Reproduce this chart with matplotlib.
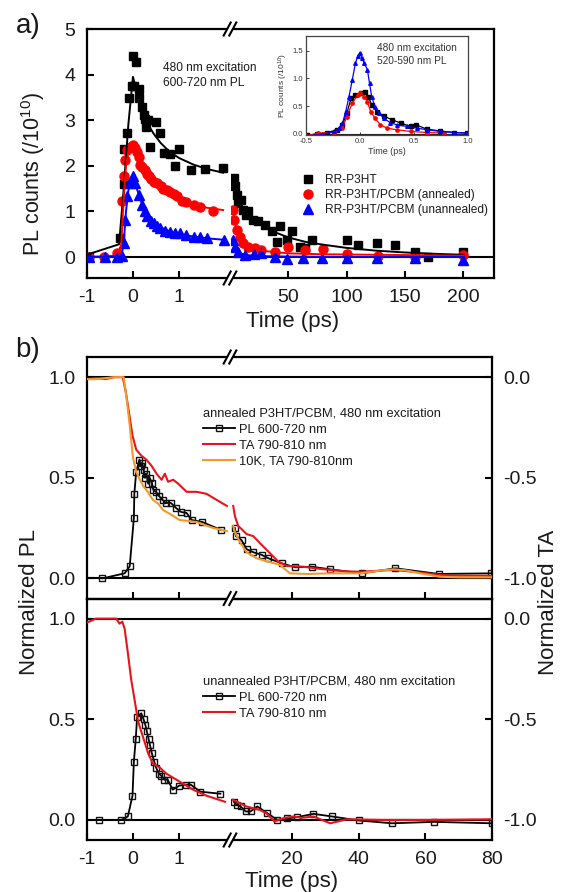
import matplotlib
matplotlib.use('Agg')
import matplotlib.pyplot as plt
from matplotlib.lines import Line2D
from matplotlib.patches import Rectangle

plt.rcParams['font.family'] = ['Liberation Sans', 'DejaVu Sans']
plt.rcParams['mathtext.fontset'] = 'custom'
plt.rcParams['mathtext.rm'] = 'Liberation Sans'
plt.rcParams['mathtext.it'] = 'Liberation Sans:italic'

# ---------------- data: panel a ----------------
series_names = ['RR-P3HT', 'RR-P3HT/PCBM (annealed)', 'RR-P3HT/PCBM (unannealed)']

p3ht_t_short = [-0.96, -0.29, -0.2, -0.19, -0.13, -0.09, -0.02, 0.01, 0.03, 0.07, 0.12, 0.14, 0.19, 0.23,
                0.27, 0.29, 0.32, 0.37, 0.5, 0.58, 0.68, 0.81, 0.9, 0.99, 1.25, 1.56, 1.94]
p3ht_v_short = [0.0, 0.42, 1.61, 2.37, 2.73, 3.48, 3.74, 4.41, 3.74, 4.28, 3.68, 3.48, 3.28, 3.12,
                3.02, 2.86, 3.01, 2.42, 2.97, 2.72, 2.29, 2.26, 2.0, 2.37, 1.91, 1.93, 1.96]
p3ht_t_long = [3.7, 4.3, 5.7, 7.1, 9.4, 11.4, 13.4, 15.7, 20, 24.3, 30, 35.7, 40, 42.9, 48.6, 52.9,
               60, 64.3, 70, 100, 110, 125.7, 141.4, 158.6, 170, 200]
p3ht_v_long = [1.73, 1.55, 1.37, 1.18, 1.26, 1.04, 0.93, 1.0, 0.82, 0.78, 0.71, 0.56, 0.34, 0.67, 0.38, 0.58,
               0.23, 0.2, 0.38, 0.37, 0.27, 0.31, 0.27, 0.10, 0.0, 0.12]
p3ht_fit_t_short = [-1, -0.3, -0.2, -0.1, 0.0, 0.05, 0.1, 0.2, 0.3, 0.45, 0.6, 0.8, 1.0, 1.3, 1.6, 1.95]
p3ht_fit_v_short = [0.05, 0.28, 1.5, 2.9, 3.95, 3.75, 3.55, 3.2, 2.95, 2.7, 2.5, 2.3, 2.17, 2.03, 1.93, 1.85]
p3ht_fit_t_long = [2.5, 3, 5, 8, 12, 16, 20, 25, 30, 40, 50, 65, 80, 100, 125, 150, 175, 200]
p3ht_fit_v_long = [1.75, 1.6, 1.35, 1.17, 1.02, 0.92, 0.84, 0.75, 0.67, 0.53, 0.43, 0.33, 0.27, 0.2, 0.14, 0.1, 0.07, 0.05]

ann_t_short = [-0.96, -0.63, -0.35, -0.24, -0.2, -0.17, -0.13, -0.06, 0.0, 0.04, 0.08, 0.12, 0.16, 0.2, 0.25,
               0.3, 0.34, 0.4, 0.46, 0.52, 0.6, 0.66, 0.73, 0.8, 0.88, 0.95, 1.06, 1.15, 1.31, 1.45, 1.73]
ann_v_short = [0.0, 0.0, 0.09, 1.22, 1.77, 2.13, 2.35, 2.42, 2.46, 2.4, 2.3, 2.2, 2.02, 1.98, 1.9,
               1.82, 1.77, 1.72, 1.65, 1.62, 1.55, 1.5, 1.47, 1.42, 1.38, 1.33, 1.22, 1.2, 1.15, 1.1, 1.02]
ann_t_long = [3, 3.7, 5.7, 8.6, 11.4, 15.7, 21.4, 27, 38.6, 50, 64, 80, 100, 127, 159, 200]
ann_v_long = [1.04, 0.82, 0.6, 0.45, 0.31, 0.23, 0.2, 0.16, 0.12, 0.22, 0.16, 0.18, 0.07, 0.03, 0.01, 0.05]
ann_fit_t_short = [-1, -0.3, -0.25, -0.2, -0.15, -0.1, -0.05, 0.0, 0.1, 0.2, 0.3, 0.45, 0.6, 0.8, 1.0, 1.3, 1.6, 1.95]
ann_fit_v_short = [0.0, 0.02, 0.3, 1.3, 2.0, 2.3, 2.42, 2.45, 2.28, 2.05, 1.87, 1.68, 1.54, 1.4, 1.28, 1.16, 1.08, 1.03]
ann_fit_t_long = [2.5, 4, 6, 10, 15, 20, 30, 50, 80, 120, 160, 200]
ann_fit_v_long = [1.1, 0.8, 0.58, 0.38, 0.25, 0.19, 0.13, 0.08, 0.06, 0.05, 0.04, 0.03]

una_t_short = [-0.96, -0.6, -0.35, -0.24, -0.2, -0.17, -0.13, -0.06, 0.0, 0.05, 0.12, 0.19, 0.25, 0.3, 0.38,
               0.45, 0.52, 0.59, 0.7, 0.81, 0.9, 1.02, 1.15, 1.31, 1.45, 1.6, 1.96]
una_v_short = [0.0, 0.0, 0.0, 0.02, 0.3, 0.82, 1.33, 1.62, 1.77, 1.62, 1.36, 1.15, 1.0, 0.89, 0.8,
               0.74, 0.68, 0.64, 0.58, 0.54, 0.53, 0.53, 0.48, 0.45, 0.43, 0.42, 0.38]
una_t_long = [3, 4.3, 7.1, 12.9, 21, 27, 39, 49, 63, 79, 100, 126, 159, 200]
una_v_long = [0.38, 0.23, 0.12, 0.05, 0.07, 0.09, 0.0, -0.04, -0.02, -0.02, -0.02, -0.02, -0.02, -0.07]
una_fit_t_short = [-1, -0.25, -0.2, -0.15, -0.1, -0.05, 0.0, 0.1, 0.2, 0.3, 0.45, 0.6, 0.8, 1.0, 1.3, 1.6, 1.95]
una_fit_v_short = [0.0, 0.02, 0.3, 1.0, 1.45, 1.68, 1.75, 1.45, 1.15, 0.93, 0.76, 0.65, 0.56, 0.5, 0.45, 0.41, 0.38]
una_fit_t_long = [2.5, 4, 6, 10, 15, 25, 50, 100, 200]
una_fit_v_long = [0.42, 0.25, 0.14, 0.07, 0.04, 0.02, 0.01, 0.0, 0.0]

# inset (520-590 nm PL)
ins_blue_t = [-0.49, -0.36, -0.24, -0.19, -0.16, -0.13, -0.1, -0.07, -0.04, -0.02, 0.0, 0.02, 0.04, 0.07,
              0.09, 0.11, 0.14, 0.18, 0.22, 0.28, 0.34, 0.44, 0.53, 0.62, 0.74, 0.87, 0.99]
ins_blue_v = [-0.04, -0.02, 0.04, 0.1, 0.19, 0.4, 0.67, 0.97, 1.28, 1.4, 1.47, 1.37, 1.28, 1.16,
              0.91, 0.67, 0.49, 0.37, 0.28, 0.2, 0.16, 0.13, 0.1, 0.07, 0.04, 0.02, 0.01]
ins_black_t = [-0.49, -0.4, -0.3, -0.21, -0.16, -0.12, -0.08, -0.04, 0.01, 0.05, 0.08, 0.11, 0.16, 0.22,
               0.3, 0.38, 0.47, 0.52, 0.62, 0.74, 0.87, 0.99]
ins_black_v = [-0.03, -0.01, 0.02, 0.07, 0.16, 0.37, 0.64, 0.7, 0.73, 0.76, 0.67, 0.52, 0.4, 0.32,
               0.25, 0.19, 0.13, 0.16, 0.08, 0.05, 0.02, 0.01]
ins_red_t = [-0.49, -0.39, -0.24, -0.16, -0.12, -0.07, -0.02, 0.0, 0.04, 0.07, 0.1, 0.14, 0.19, 0.25,
             0.34, 0.47, 0.62, 0.78]
ins_red_v = [-0.04, 0.01, 0.02, 0.1, 0.31, 0.55, 0.7, 0.73, 0.67, 0.58, 0.4, 0.28, 0.16, 0.1,
             0.07, 0.04, 0.02, 0.01]

# ---------------- data: panel b ----------------
legend_b_top = ['PL 600-720 nm', 'TA 790-810 nm', '10K, TA 790-810nm']
legend_b_bot = ['PL 600-720 nm', 'TA 790-810 nm']

# annealed PL (normalized)
aPL_t_short = [-0.66, -0.18, -0.07, 0.02, 0.03, 0.07, 0.14, 0.17, 0.2, 0.23, 0.26, 0.29, 0.33, 0.36, 0.41,
               0.44, 0.5, 0.56, 0.64, 0.71, 0.82, 0.93, 1.04, 1.16, 1.27, 1.5, 1.91]
aPL_v_short = [0.0, 0.025, 0.06, 0.3, 0.42, 0.53, 0.59, 0.56, 0.575, 0.54, 0.5, 0.52, 0.47, 0.5, 0.475,
               0.44, 0.43, 0.41, 0.39, 0.375, 0.375, 0.35, 0.33, 0.325, 0.29, 0.28, 0.24]
aPL_t_long = [3.0, 3.3, 5.0, 6.5, 8.5, 11.0, 13.0, 17.0, 21.0, 26.0, 31.5, 41.0, 51.0, 64.0, 79.5]
aPL_v_long = [0.25, 0.21, 0.19, 0.145, 0.13, 0.117, 0.1, 0.075, 0.055, 0.058, 0.045, 0.025, 0.05, 0.022, 0.025]
# annealed TA (right axis, normalized TA)
aTA_t_short = [-1.0, -0.8, -0.6, -0.4, -0.22, -0.15, -0.07, -0.01, 0.07, 0.18, 0.29, 0.4, 0.51, 0.62, 0.69,
               0.76, 0.87, 0.98, 1.16, 1.38, 1.59, 1.81, 2.03]
aTA_v_short = [-0.01, -0.005, -0.01, 0.0, 0.0, -0.08, -0.2, -0.29, -0.36, -0.39, -0.41, -0.44, -0.48, -0.51, -0.48,
               -0.52, -0.51, -0.53, -0.57, -0.57, -0.58, -0.61, -0.64]
aTA_t_long = [2.5, 3, 4, 5, 6.5, 8.5, 10.5, 12, 13.5, 16, 18.5, 21, 23.5, 27, 31.5, 36, 40.5, 45, 50.4, 55,
              60.4, 64, 68.4, 74, 80]
aTA_v_long = [-0.64, -0.69, -0.74, -0.755, -0.78, -0.79, -0.825, -0.85, -0.875, -0.917, -0.938, -0.94, -0.942,
              -0.95, -0.958, -0.965, -0.967, -0.963, -0.958, -0.965, -0.975, -0.982, -0.987, -0.987, -0.987]
a10K_t_short = [-1.0, -0.8, -0.6, -0.4, -0.2, -0.14, -0.07, 0.0, 0.07, 0.15, 0.22, 0.32, 0.43, 0.55, 0.65,
                0.8, 1.01, 1.2, 1.38, 1.55, 1.74, 2.03]
a10K_v_short = [-0.01, -0.01, -0.005, 0.0, 0.0, -0.1, -0.24, -0.4, -0.47, -0.51, -0.54, -0.57, -0.61, -0.63, -0.66,
                -0.68, -0.71, -0.715, -0.72, -0.735, -0.75, -0.765]
a10K_t_long = [2.5, 3, 4.5, 6.5, 9.5, 13, 16.5, 18, 19.5, 24.5, 31.5, 40.5, 46, 50.4, 54, 58.4, 64.4, 70, 80]
a10K_v_long = [-0.74, -0.77, -0.82, -0.87, -0.9, -0.917, -0.933, -0.955, -0.975, -0.978, -0.975, -0.975, -0.962,
               -0.955, -0.96, -0.975, -0.992, -0.995, -0.995]

# unannealed PL
uPL_t_short = [-0.73, -0.25, -0.11, -0.01, 0.02, 0.06, 0.09, 0.18, 0.23, 0.27, 0.3, 0.34, 0.37, 0.41, 0.46,
               0.5, 0.56, 0.61, 0.68, 0.75, 0.86, 1.0, 1.14, 1.25, 1.46, 1.89]
uPL_v_short = [0.0, 0.0, 0.017, 0.12, 0.29, 0.4, 0.51, 0.53, 0.5, 0.47, 0.44, 0.4, 0.37, 0.33, 0.29,
               0.26, 0.23, 0.22, 0.2, 0.2, 0.15, 0.17, 0.175, 0.175, 0.14, 0.13]
uPL_t_long = [2.7, 3.5, 4.7, 6.2, 7.7, 9.7, 12.7, 15.7, 18.7, 21.5, 26.5, 32, 40, 50, 62.5, 80]
uPL_v_long = [0.09, 0.075, 0.067, 0.042, 0.042, 0.067, 0.033, 0.0, 0.008, 0.013, 0.03, 0.017, -0.003, -0.017,
              -0.01, -0.017]
# unannealed TA (right axis)
uTA_t_short = [-1.0, -0.8, -0.5, -0.36, -0.29, -0.23, -0.18, -0.11, -0.04, 0.04, 0.11, 0.22, 0.33, 0.43, 0.58,
               0.72, 1.01, 1.3, 1.59, 1.99]
uTA_v_short = [-0.02, 0.0, 0.0, 0.0, -0.025, -0.015, -0.05, -0.17, -0.3, -0.41, -0.51, -0.59, -0.67, -0.72, -0.74,
               -0.77, -0.81, -0.85, -0.88, -0.91]
uTA_t_long = [2.4, 6.4, 10.4, 12.4, 14.9, 17.4, 20.4, 23, 26.5, 29, 31.5, 36.5, 46.5, 61.5, 80]
uTA_v_long = [-0.9, -0.933, -0.95, -0.967, -1.008, -0.992, -0.983, -0.99, -0.983, -1.0, -1.017, -0.997, -1.0,
              -1.0, -0.997]

# ---------------- layout helpers ----------------
W, H = 561, 892
fig = plt.figure(figsize=(W / 100, H / 100), dpi=100)


def R(x0, y0, x1, y1):
    return [x0 / W, 1 - y1 / H, (x1 - x0) / W, (y1 - y0) / H]


def fx(x):
    return x / W


def fy(y):
    return 1 - y / H


TXT = '#1a1a1a'
TICK_FS = 14


def base(ax):
    for s in ax.spines.values():
        s.set_linewidth(1.6)
    ax.tick_params(direction='in', length=5, width=1.5, labelsize=TICK_FS, pad=8,
                   labelcolor=TXT, top=False, right=False)
    ax.set_facecolor('none')


def left_seg(ax):
    base(ax)
    ax.spines['right'].set_visible(False)


def right_seg(ax):
    base(ax)
    ax.spines['left'].set_visible(False)
    ax.tick_params(left=False, labelleft=False)


def brk(x, y):
    fig.add_artist(Rectangle((fx(x - 2.8), fy(y + 3)), 5.6 / W, 6 / H, transform=fig.transFigure,
                             facecolor='white', edgecolor='none', zorder=20))
    for dx in (-2.8, 2.8):
        fig.add_artist(Line2D([fx(x + dx - 3.5), fx(x + dx + 3.5)], [fy(y + 6.5), fy(y - 6.5)],
                              transform=fig.transFigure, color='k', lw=1.5, zorder=21))


# ---------------- panel a ----------------
aL = fig.add_axes(R(86.7, 29, 231, 278))
aR = fig.add_axes(R(231, 29, 494, 278))
left_seg(aL)
right_seg(aR)
for ax in (aL, aR):
    ax.set_ylim(-0.46, 5.0)
    ax.axhline(0, color='k', lw=1.5, zorder=1)
aL.set_xlim(-1, 2.12)
aR.set_xlim(0.9, 226.3)
aL.set_xticks([-1, 0, 1])
aL.set_xticklabels(['-1', '0', '1'])
aL.set_yticks([0, 1, 2, 3, 4, 5])
aR.set_xticks([50, 100, 150, 200])

cols = ['#000000', '#ff0000', '#0000ff']
marks = ['s', 'o', '^']
msz = [6, 6.5, 6.5]
sets = [
    (p3ht_t_short, p3ht_v_short, p3ht_t_long, p3ht_v_long,
     p3ht_fit_t_short, p3ht_fit_v_short, p3ht_fit_t_long, p3ht_fit_v_long),
    (ann_t_short, ann_v_short, ann_t_long, ann_v_long,
     ann_fit_t_short, ann_fit_v_short, ann_fit_t_long, ann_fit_v_long),
    (una_t_short, una_v_short, una_t_long, una_v_long,
     una_fit_t_short, una_fit_v_short, una_fit_t_long, una_fit_v_long),
]
for (ts, vs, tl, vl, fts, fvs, ftl, fvl), c, m, s in zip(sets, cols, marks, msz):
    aL.plot(ts, vs, ls='none', marker=m, ms=s, color=c, zorder=3)
    aR.plot(tl, vl, ls='none', marker=m, ms=s, color=c, zorder=3)
    aL.plot(fts, fvs, color=c, lw=1.4, zorder=4)
    aR.plot(ftl, fvl, color=c, lw=1.4, zorder=4)

handles = [Line2D([], [], ls='none', marker=m, ms=s, color=c) for c, m, s in zip(cols, marks, msz)]
aR.legend(handles, series_names, loc='upper left', bbox_to_anchor=(fx(302), fy(174)),
          bbox_transform=fig.transFigure, frameon=False, fontsize=8.6, handlelength=1.0,
          handletextpad=0.95, borderpad=0, borderaxespad=0, labelspacing=0.27, labelcolor=TXT)

fig.text(fx(163), fy(75.5), '480 nm excitation\n600-720 nm PL', fontsize=8.6, color=TXT,
         ha='left', va='center', linespacing=1.3)

# inset
ins = fig.add_axes(R(305.7, 35.7, 468, 135))
ins.set_facecolor('white')
for s in ins.spines.values():
    s.set_linewidth(0.9)
    s.set_color('#444444')
ins.tick_params(direction='in', length=2, width=0.7, labelsize=5.5, pad=2,
                labelcolor='#333333', color='#444444')
ins.set_xlim(-0.5, 1.0)
ins.set_ylim(-0.025, 1.775)
ins.set_xticks([-0.5, 0.0, 0.5, 1.0])
ins.set_xticklabels(['-0.5', '0.0', '0.5', '1.0'])
ins.set_yticks([0.0, 0.5, 1.0, 1.5])
ins.set_yticklabels(['0.0', '0.5', '1.0', '1.5'])
ins.axhline(0, color='#222222', lw=0.8)
ins.plot(ins_black_t, ins_black_v, color='k', marker='s', ms=2.2, lw=0.9)
ins.plot(ins_red_t, ins_red_v, color='#ff0000', marker='o', ms=2.4, lw=0.9)
ins.plot(ins_blue_t, ins_blue_v, color='#0000ff', marker='^', ms=2.6, lw=0.9)
ins.set_xlabel('Time (ps)', fontsize=6.5, labelpad=1.5, color='#333333')
ins.set_ylabel('PL counts (/10$^{10}$)', fontsize=6, labelpad=2, color='#333333')
fig.text(fx(377), fy(54.5), '480 nm excitation\n520-590 nm PL', fontsize=7.3, color='#333333',
         ha='left', va='center', linespacing=1.3)

# ---------------- panel b ----------------
RED = '#e8141c'
ORG = '#f39a2b'


def panel_b(y0, y1, pl, ta_list, labels, title, leg_top, show_labels):
    bl = fig.add_axes(R(86.7, y0, 231, y1))
    br = fig.add_axes(R(231, y0, 492.3, y1))
    left_seg(bl)
    right_seg(br)
    for ax in (bl, br):
        ax.set_ylim(-0.1, 1.1)
        ax.axhline(0, color='k', lw=1.5, zorder=1)
        ax.axhline(1, color='k', lw=1.5, zorder=1)
    bl.set_xlim(-1, 2.12)
    br.set_xlim(1.84, 80)
    bl.set_yticks([0.0, 0.5, 1.0])
    bl.set_yticklabels(['0.0', '0.5', '1.0'])
    if show_labels:
        bl.set_xticks([-1, 0, 1])
        bl.set_xticklabels(['-1', '0', '1'])
        br.set_xticks([20, 40, 60, 80])
    else:
        bl.set_xticks([0, 1])
        bl.tick_params(labelbottom=False)
        br.set_xticks([20, 40, 60])
        br.tick_params(labelbottom=False)
    tl = bl.twinx()
    tr = br.twinx()
    br.tick_params(left=False, labelleft=False, right=False, labelright=False)
    bl.tick_params(right=False, labelright=False)
    for t in (tl, tr):
        t.set_ylim(-1.1, 0.1)
        for s in t.spines.values():
            s.set_visible(False)
    tl.tick_params(right=False, labelright=False, left=False, labelleft=False)
    tr.set_yticks([-1.0, -0.5, 0.0])
    tr.set_yticklabels(['-1.0', '-0.5', '0.0'])
    tr.tick_params(direction='in', length=5, width=1.5, labelsize=TICK_FS, pad=8, labelcolor=TXT,
                   left=False, labelleft=False)
    tl.set_xlim(bl.get_xlim())
    tr.set_xlim(br.get_xlim())

    hs = []
    pts, pvs, ptl, pvl = pl
    kw = dict(color='k', marker='s', ms=4.6, mfc='none', mec='#111111', mew=1.0, lw=1.3)
    bl.plot(pts, pvs, zorder=5, **kw)
    br.plot(ptl, pvl, zorder=5, **kw)
    hs.append(Line2D([], [], **kw))
    for (ts, vs, tL, vL), c in ta_list:
        tl.plot(ts, vs, color=c, lw=1.5, zorder=3)
        tr.plot(tL, vL, color=c, lw=1.5, zorder=3)
        hs.append(Line2D([], [], color=c, lw=1.5))
    leg = tr.legend(hs, labels, title=title, loc='upper left', bbox_to_anchor=(fx(203), fy(leg_top)),
                    bbox_transform=fig.transFigure, frameon=False, fontsize=9.3, title_fontsize=9.3,
                    handlelength=2.5, handletextpad=0.25, borderpad=0, borderaxespad=0,
                    labelspacing=0.3, labelcolor=TXT, alignment='left')
    leg.get_title().set_color(TXT)
    return bl, br


panel_b(357, 598.5, (aPL_t_short, aPL_v_short, aPL_t_long, aPL_v_long),
        [((aTA_t_short, aTA_v_short, aTA_t_long, aTA_v_long), RED),
         ((a10K_t_short, a10K_v_short, a10K_t_long, a10K_v_long), ORG)],
        legend_b_top, 'annealed P3HT/PCBM, 480 nm excitation', 408, False)
panel_b(598.5, 840, (uPL_t_short, uPL_v_short, uPL_t_long, uPL_v_long),
        [((uTA_t_short, uTA_v_short, uTA_t_long, uTA_v_long), RED)],
        legend_b_bot, 'unannealed P3HT/PCBM, 480 nm excitation', 676, True)

# break marks
for yb in (29, 278, 357, 598.5, 840):
    brk(230, yb)

# labels
LAB_FS = 16
fig.text(fx(28), fy(26), 'a)', fontsize=20, ha='center', va='center', color=TXT)
fig.text(fx(28), fy(350), 'b)', fontsize=20, ha='center', va='center', color=TXT)
fig.text(fx(33), fy(174), 'PL counts (/10$^{10}$)', rotation=90, fontsize=15.5, ha='center', va='center', color=TXT)
fig.text(fx(293), fy(321), 'Time (ps)', fontsize=LAB_FS, ha='center', va='center', color=TXT)
fig.text(fx(30), fy(602), 'Normalized PL', rotation=90, fontsize=LAB_FS, ha='center', va='center', color=TXT)
fig.text(fx(548), fy(602), 'Normalized TA', rotation=90, fontsize=LAB_FS, ha='center', va='center', color=TXT)
fig.text(fx(292), fy(881), 'Time (ps)', fontsize=LAB_FS, ha='center', va='center', color=TXT)

fig.savefig('out.png', dpi=100)
